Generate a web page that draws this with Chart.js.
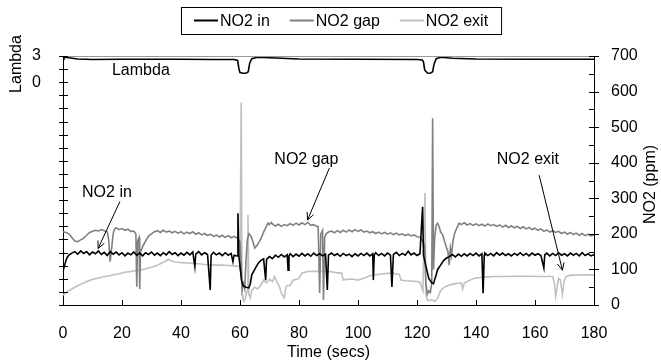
<!DOCTYPE html>
<html>
<head>
<meta charset="utf-8">
<script src="https://cdn.jsdelivr.net/npm/chart.js@4.4.0/dist/chart.umd.min.js"></script>
<style>
  html, body { margin: 0; padding: 0; background: #fff; }
  canvas { display: block; }
</style>
</head>
<body>
<canvas id="chart" width="661" height="364"></canvas>
<script>
const FONT = '"Liberation Sans", Arial, sans-serif';

// [time (s), value]
const lambda = [
  [0, 2.6], [0.3, 2.85], [2, 2.8], [5, 2.65], [10, 2.6], [20, 2.62], [30, 2.63], [40, 2.62],
  [50, 2.6], [58, 2.6], [59.2, 2.5], [59.6, 1.6], [60, 1.1], [61, 1.02], [62, 1.02], [62.8, 1.2],
  [63.3, 2.2], [64, 2.7], [66, 2.85], [70, 2.8], [80, 2.65], [100, 2.62], [120, 2.6], [121.8, 2.55],
  [122.2, 2.3], [122.6, 1.4], [123.5, 1.05], [124.5, 1.02], [125.3, 1.2], [125.8, 2.1], [126.5, 2.7],
  [128, 2.85], [132, 2.75], [140, 2.65], [160, 2.62], [180, 2.62]
];

const no2In = [
  [0, 95], [0.5, 110], [1, 125], [1.5, 135], [2, 140], [3, 146], [4, 150], [5, 143], [6, 152], [7, 145],
  [8, 150], [9, 141], [10, 149], [11, 144], [12, 152], [13, 142], [14, 148], [15, 139], [16, 150], [17, 143],
  [18, 149], [19, 141], [20, 147], [21, 138], [22, 146], [23, 141], [24, 149], [25, 140], [26, 146], [27, 138],
  [28, 147], [29, 142], [30, 149], [31, 140], [32, 146], [33, 139], [34, 147], [35, 141], [36, 150], [37, 142],
  [38, 147], [39, 139], [40, 146], [41, 140], [42, 148], [43, 141], [44, 149], [44.7, 108], [45, 143], [46, 150],
  [47, 141], [48, 147], [49, 142], [49.9, 42], [50.2, 140], [51, 148], [52, 141], [53, 146], [54, 139], [55, 147],
  [56, 140], [57, 145], [57.6, 122], [58, 140], [59, 138], [59.3, 258], [59.6, 140], [60, 110], [60.5, 70], [61, 55],
  [62, 50], [63, 48], [63.5, 60], [64, 85], [65, 100], [66, 115], [67, 125], [68, 130], [68.7, 70], [69, 128],
  [70, 136], [71, 130], [72, 140], [73, 134], [74, 142], [75, 135], [76, 141], [76.3, 98], [76.6, 138], [77, 144],
  [78, 136], [79, 143], [80, 137], [81, 145], [82, 138], [83, 144], [84, 137], [85, 146], [86, 139], [87, 144],
  [88, 138], [89, 143], [89.6, 42], [90, 140], [91, 146], [92, 139], [93, 144], [94, 137], [95, 145], [96, 139],
  [97, 143], [98, 136], [99, 144], [100, 138], [101, 145], [102, 139], [103, 146], [104, 138], [105, 144], [105.2, 70],
  [105.5, 140], [106, 147], [107, 139], [108, 145], [109, 138], [110, 146], [111, 140], [111.5, 51], [112, 142], [113, 148],
  [114, 139], [115, 145], [116, 140], [117, 151], [118, 141], [119, 146], [120, 139], [121, 144], [121.9, 276], [122.2, 140],
  [123, 110], [124, 75], [125, 62], [125.6, 60], [126, 72], [126.5, 85], [127, 100], [128, 112], [129, 125], [130, 132],
  [131, 136], [132, 142], [133, 135], [134, 143], [135, 137], [136, 144], [137, 138], [138, 145], [139, 139], [140, 146],
  [141, 138], [142, 144], [142.4, 33], [142.8, 140], [143, 146], [144, 139], [145, 145], [146, 138], [147, 147], [148, 140],
  [149, 146], [150, 139], [151, 144], [152, 138], [153, 145], [154, 140], [155, 147], [156, 139], [157, 145], [158, 138],
  [159, 146], [160, 140], [161, 144], [162, 139], [163, 104], [163.3, 141], [164, 146], [165, 138], [166, 145], [167, 139],
  [168, 147], [169, 140], [170, 144], [171, 138], [172, 146], [173, 140], [174, 145], [175, 138], [176, 147], [177, 139],
  [178, 144], [179, 138], [180, 142]
];

const no2Gap = [
  [0, 206], [1, 204], [2, 200], [3, 190], [4, 180], [5, 178], [6, 183], [7, 188], [8, 196], [9, 204],
  [10, 207], [11, 210], [12, 208], [13, 212], [14, 209], [15, 206], [15.5, 183], [16, 122], [16.5, 160], [17, 200],
  [17.5, 214], [18, 217], [19, 212], [20, 215], [21, 210], [22, 213], [23, 207], [24, 208], [24.7, 200], [25, 51],
  [25.3, 180], [25.8, 190], [26, 45], [26.3, 150], [27, 164], [28, 180], [29, 194], [30, 200], [31, 206], [32, 209],
  [33, 204], [34, 210], [35, 205], [36, 208], [37, 203], [38, 207], [39, 202], [40, 206], [41, 200], [42, 205],
  [43, 201], [44, 206], [45, 199], [46, 203], [47, 197], [48, 201], [49, 195], [50, 199], [51, 193], [52, 197],
  [53, 191], [54, 196], [55, 190], [56, 195], [57, 189], [58, 193], [59, 188], [59.5, 185], [60, 178], [60.4, 120],
  [60.7, 42], [61.2, 60], [61.6, 45], [62, 120], [62.5, 185], [63, 200], [63.5, 196], [64, 188], [65, 160], [66, 170],
  [67, 185], [68, 205], [69, 222], [69.5, 230], [70, 226], [70.6, 232], [71, 228], [72, 222], [73, 227], [74, 221],
  [75, 226], [76, 223], [77, 229], [78, 224], [79, 230], [80, 225], [81, 231], [82, 226], [83, 232], [84, 224],
  [85, 226], [86, 221], [86.5, 220], [87, 34], [87.4, 200], [88, 210], [88.3, 14], [88.7, 190], [89.2, 200], [90, 205],
  [91, 208], [92, 203], [93, 209], [94, 204], [95, 210], [96, 205], [97, 211], [98, 206], [99, 212], [100, 207],
  [101, 211], [102, 205], [103, 208], [104, 203], [105, 206], [106, 201], [107, 205], [108, 200], [109, 204], [110, 199],
  [111, 203], [112, 198], [113, 202], [114, 197], [115, 200], [116, 195], [117, 199], [118, 194], [119, 197], [120, 192],
  [121, 191], [122, 178], [122.6, 168], [123, 60], [123.5, 30], [124, 40], [124.5, 35], [125, 60], [125.3, 525], [125.6, 100],
  [126, 190], [126.5, 225], [127, 230], [127.5, 220], [128, 205], [128.7, 198], [129.3, 180], [129.9, 164], [130.5, 150], [130.9, 112],
  [131.3, 160], [131.7, 140], [132.2, 180], [132.7, 200], [133.2, 211], [134, 225], [134.3, 230], [135, 226], [136, 231], [137, 225],
  [138, 229], [139, 224], [140, 228], [141, 223], [142, 227], [143, 222], [144, 228], [145, 223], [146, 226], [147, 221],
  [148, 225], [149, 219], [150, 224], [151, 218], [152, 222], [153, 217], [154, 221], [155, 215], [156, 220], [157, 214],
  [158, 218], [159, 212], [160, 216], [161, 210], [162, 214], [163, 207], [164, 211], [165, 205], [166, 209], [167, 204],
  [168, 207], [169, 201], [170, 205], [171, 199], [172, 204], [173, 198], [174, 202], [175, 196], [176, 201], [177, 195],
  [178, 199], [179, 194], [180, 197]
];

const no2Exit = [
  [0, 28], [1, 35], [2, 40], [3, 45], [4, 50], [5, 54], [6, 58], [7, 62], [8, 66], [9, 69],
  [10, 72], [11, 74], [12, 76], [13, 78], [14, 80], [15, 81], [16, 83], [17, 85], [18, 86], [19, 88],
  [20, 90], [21, 92], [22, 93], [23, 94], [24, 96], [25, 97], [26, 98], [27, 100], [28, 102], [29, 104],
  [30, 106], [31, 109], [32, 112], [33, 116], [34, 120], [35, 125], [35.6, 128], [36, 127], [37, 123], [38, 121],
  [39, 120], [40, 119], [42, 118], [44, 117], [46, 116], [48, 114], [50, 113], [52, 112], [54, 112], [56, 111],
  [58, 110], [59.6, 109], [60, 100], [60.4, 569], [60.7, 30], [61, 20], [61.5, 12], [62, 25], [62.5, 40], [62.7, 253],
  [63, 30], [63.5, 20], [64, 42], [65, 50], [66, 45], [67, 55], [68, 70], [69, 62], [70, 72], [71, 66],
  [71.7, 80], [72.5, 65], [73.4, 51], [74, 33], [75, 20], [75.5, 50], [76, 55], [77, 55], [78, 70], [79, 72],
  [80, 75], [81, 90], [83, 94], [86, 95], [90, 94], [94.5, 89], [95, 70], [96, 72], [98, 73], [100, 70],
  [102, 75], [104, 82], [106, 85], [108, 87], [110, 89], [112, 89], [114, 86], [114.6, 70], [116, 68], [118, 67],
  [120, 66], [121, 64], [122, 40], [122.7, 315], [123, 30], [123.5, 14], [124, 12], [125, 15], [126, 10], [127, 20],
  [128, 40], [129, 48], [130, 53], [131, 56], [132, 58], [133, 60], [134, 61], [135, 62], [135.5, 45], [136, 62],
  [137, 66], [138, 70], [139, 74], [140, 76], [142, 78], [144, 79], [146, 80], [150, 80], [154, 81], [158, 81],
  [162, 80], [166, 80], [166.6, 60], [167, 25], [167.5, 50], [168, 75], [168.6, 70], [169.3, 30], [169.8, 65], [170.5, 80],
  [172, 84], [175, 84], [178, 85], [180, 84]
];

const seriesLabels = ['NO2 in', 'NO2 gap', 'NO2 exit'];
const seriesColors = ['#000000', '#808080', '#c0c0c0'];
const xTicks = [0, 20, 40, 60, 80, 100, 120, 140, 160, 180];

const toXY = arr => arr.map(p => ({ x: p[0], y: p[1] }));

function arrow(ctx, x1, y1, x2, y2) {
  ctx.beginPath();
  ctx.moveTo(x1, y1);
  ctx.lineTo(x2, y2);
  const ang = Math.atan2(y2 - y1, x2 - x1);
  for (const d of [0.45, -0.45]) {
    ctx.moveTo(x2, y2);
    ctx.lineTo(x2 - 8 * Math.cos(ang + d), y2 - 8 * Math.sin(ang + d));
  }
  ctx.stroke();
}

// ticks, titles, callouts and the boxed legend
const decor = {
  id: 'decor',
  afterDraw(chart) {
    const ctx = chart.ctx, a = chart.chartArea;
    const sx = chart.scales.x, sL = chart.scales.yL, sy = chart.scales.y;
    ctx.save();
    ctx.lineWidth = 1;
    ctx.strokeStyle = '#999';
    ctx.beginPath();
    ctx.moveTo(a.left, a.top + 0.5); ctx.lineTo(a.right, a.top + 0.5);
    ctx.stroke();

    ctx.strokeStyle = '#000';
    ctx.beginPath();
    sx.ticks.forEach(t => {
      const px = Math.round(sx.getPixelForValue(t.value)) + 0.5;
      ctx.moveTo(px, a.bottom); ctx.lineTo(px, a.bottom - 5);
    });
    sL.ticks.forEach(t => {
      const py = Math.round(sL.getPixelForValue(t.value)) + 0.5;
      ctx.moveTo(a.left - 4, py); ctx.lineTo(a.left + 5, py);
    });
    sy.ticks.forEach(t => {
      const py = Math.round(sy.getPixelForValue(t.value)) + 0.5;
      ctx.moveTo(a.right - 5, py); ctx.lineTo(a.right + (t.value % 100 === 0 ? 5 : 0), py);
    });
    ctx.stroke();

    ctx.fillStyle = '#000';
    ctx.font = '16px ' + FONT;
    ctx.textAlign = 'center';
    ctx.textBaseline = 'middle';

    // rotated axis titles
    ctx.save();
    ctx.translate(17, 64); ctx.rotate(-Math.PI / 2);
    ctx.fillText('Lambda', 0, 0);
    ctx.restore();
    ctx.save();
    ctx.translate(651, (a.top + a.bottom) / 2 + 4); ctx.rotate(-Math.PI / 2);
    ctx.fillText('NO2 (ppm)', 0, 0);
    ctx.restore();

    // callouts
    ctx.fillText('Lambda', sx.getPixelForValue(26.4), sL.getPixelForValue(1.28));
    const notes = [
      ['NO2 in', 14.9, 315, 19.3, 291, 11.9, 159],
      ['NO2 gap', 82.5, 408, 90.3, 385, 82.9, 239],
      ['NO2 exit', 157.6, 408, 161.4, 365, 169.3, 98]
    ];
    notes.forEach(n => {
      ctx.fillText(n[0], sx.getPixelForValue(n[1]), sy.getPixelForValue(n[2]));
      arrow(ctx, sx.getPixelForValue(n[3]), sy.getPixelForValue(n[4]),
                 sx.getPixelForValue(n[5]), sy.getPixelForValue(n[6]));
    });

    // legend
    const boxX = 181, boxY = 7, boxH = 27, padX = 13, gap = 20, lineLen = 24;
    let cx = boxX + padX;
    const ly = boxY + boxH / 2;
    ctx.textAlign = 'left';
    ctx.lineWidth = 2;
    seriesLabels.forEach((lab, i) => {
      ctx.strokeStyle = seriesColors[i];
      ctx.beginPath(); ctx.moveTo(cx, ly); ctx.lineTo(cx + lineLen, ly); ctx.stroke();
      cx += lineLen + 2;
      ctx.fillText(lab, cx, ly + 1);
      cx += ctx.measureText(lab).width + gap;
    });
    ctx.lineWidth = 1;
    ctx.strokeStyle = '#000';
    ctx.strokeRect(boxX + 0.5, boxY + 0.5, cx - gap + padX - boxX, boxH);
    ctx.restore();
  }
};

const datasets = [no2In, no2Gap, no2Exit].map((s, i) => ({
  label: seriesLabels[i],
  data: toXY(s),
  borderColor: seriesColors[i],
  borderWidth: 1.6,
  yAxisID: 'y'
}));
datasets.push({
  label: 'Lambda',
  data: toXY(lambda),
  borderColor: '#000',
  borderWidth: 1.6,
  yAxisID: 'yL'
});

new Chart(document.getElementById('chart'), {
  type: 'line',
  data: { datasets },
  options: {
    responsive: false,
    animation: false,
    devicePixelRatio: 1,
    layout: { padding: { top: 56, left: 0, right: 0, bottom: 0 } },
    elements: { point: { radius: 0 }, line: { tension: 0 } },
    plugins: { legend: { display: false }, tooltip: { enabled: false } },
    scales: {
      x: {
        type: 'linear',
        min: 0, max: 180,
        afterBuildTicks: s => { s.ticks = xTicks.map(v => ({ value: v })); },
        grid: { display: false },
        border: { display: true, color: '#000', width: 1 },
        ticks: { font: { family: FONT, size: 16 }, color: '#000', padding: 11, maxRotation: 0 },
        title: { display: true, text: 'Time (secs)', font: { family: FONT, size: 16 }, color: '#000', padding: { top: 0, bottom: 2 } },
        afterFit: s => { s.height = 59; }
      },
      yL: {
        position: 'left',
        min: -25.5, max: 3,
        grid: { display: false },
        border: { display: true, color: '#000', width: 1 },
        ticks: {
          stepSize: 1.5, autoSkip: false, padding: 14,
          font: { family: FONT, size: 16 }, color: '#000',
          callback: v => (v === 3 || v === 0) ? String(v) : ''
        },
        afterFit: s => { s.width = 63; }
      },
      y: {
        position: 'right',
        min: 0, max: 700,
        grid: { display: false },
        border: { display: true, color: '#000', width: 1 },
        ticks: {
          stepSize: 50, autoSkip: false, padding: 9,
          font: { family: FONT, size: 16 }, color: '#000',
          callback: v => v % 100 === 0 ? String(v) : ''
        },
        afterFit: s => { s.width = 67; }
      }
    }
  },
  plugins: [decor]
});
</script>
</body>
</html>
